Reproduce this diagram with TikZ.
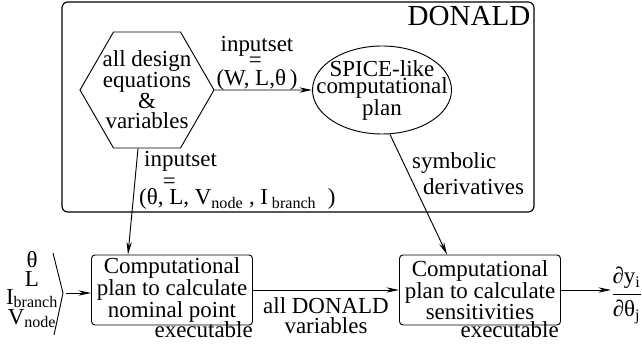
\documentclass[tikz,border=0pt]{standalone}
\usepackage{fontspec}
\setmainfont{Liberation Serif}
\newfontfamily\timesface{Liberation Serif}
\usetikzlibrary{positioning,arrows.meta,calc,shapes.geometric}
\newcommand{\plainsize}{\timesface\fontsize{19.6pt}{17pt}\selectfont}
\newcommand{\dblbar}[2]{\makebox[0pt]{\raisebox{#1}[0pt][0pt]{=}}#2}
\tikzset{
  flow/.style={-{Stealth[length=0.38cm,width=0.16cm]},line width=0.8pt},
  box/.style={draw,line width=0.8pt,rounded corners=3pt,
    minimum width=4.83cm,minimum height=2.1cm,align=center,font=\plainsize,inner sep=2pt},
  hexbox/.style={draw,line width=0.8pt,regular polygon,regular polygon sides=6,
    minimum size=4.02cm,inner sep=-0.1cm,align=center,font=\timesface\fontsize{19.6pt}{17.6pt}\selectfont},
  ovalbox/.style={draw,line width=0.8pt,ellipse,minimum width=4.17cm,minimum height=2.64cm,
    inner xsep=-0.6cm,inner ysep=0pt,align=center,font=\timesface\fontsize{19.6pt}{14.5pt}\selectfont},
  donaldframe/.style={draw,line width=1pt,rounded corners=5pt,
    minimum width=14.16cm,minimum height=6.3cm},
  lbl/.style={inner sep=0pt,font=\plainsize}
}

\begin{document}
\begin{tikzpicture}[x=0.03cm,y=-0.03cm]
  \useasboundingbox (0,0) rectangle (642,346);
  \node[donaldframe] (donald) at (298,107) {};
  \node[lbl,font=\timesface\fontsize{24.8pt}{26pt}\selectfont,anchor=north east] (title)
    at ([xshift=-0.12cm,yshift=-0.15cm]donald.north east) {DONALD};
  \node[hexbox] (eqs) at (147,90) {all design\\equations\\\&\\variables};
  \node[ovalbox] (spice) at (382,90) {SPICE-like\\computational\\plan};
  \node[box] (nominal) at (172,290) {Computational\\plan to calculate\\nominal point};
  \node[box] (sens) at (480,290) {Computational\\plan to calculate\\sensitivities};
  \node[lbl,anchor=north east] (exenom) at ([yshift=0.12cm]nominal.south east) {executable};
  \node[lbl,anchor=north east] (exesens) at ([xshift=-0.06cm,yshift=0.12cm]sens.south east) {executable};
  % inputs on the left
  \node[lbl,align=center,font=\timesface\fontsize{19.6pt}{15.5pt}\selectfont] (inputs) at (32,290)
    {θ\\L\\I\textsubscript{branch}\\V\textsubscript{node}};
  \draw[line width=0.8pt] (53,253) -- (63,293) coordinate (brtip) -- (54,335);
  \coordinate[right=0.1cm of brtip] (feed);
  \draw[flow] (feed) -- (feed -| nominal.west);
  % connectors
  \draw[flow] (eqs) -- (spice);
  \node[lbl,align=center,anchor=south] (setone) at (257,91)
    {inputset\\[0.36cm](W, \dblbar{0.54cm}{L},θ\,)};
  \draw[flow] ([xshift=-0.27cm]eqs.south) -- ([xshift=-1.32cm]nominal.north);
  \node[lbl,align=left,anchor=north west] (settwo) at (139,151)
    {\hspace*{0.15cm}inputset\\[0.48cm](θ, \dblbar{0.47cm}{L}, V\textsubscript{node} , I\,\textsubscript{branch}~ )};
  \draw[flow] ([xshift=0.24cm]spice.south) -- ([xshift=-0.99cm]sens.north);
  \node[lbl,align=left,anchor=north west] (symb) at (412,152)
    {symbolic\\[0.12cm]\hspace*{0.33cm}derivatives};
  \draw[flow] (nominal) -- (sens);
  \node[lbl,align=center,anchor=north] (vars) at (326,297) {all DONALD\\variables};
  \node[lbl,anchor=base west] (frac) at (611,300)
    {$\displaystyle\frac{\mbox{\timesface ∂y\textsubscript{i}}}{\mbox{\timesface ∂θ\textsubscript{j}}}$};
  \draw[flow] (sens.east) -- (sens.east -| frac.west);
\end{tikzpicture}
\end{document}
